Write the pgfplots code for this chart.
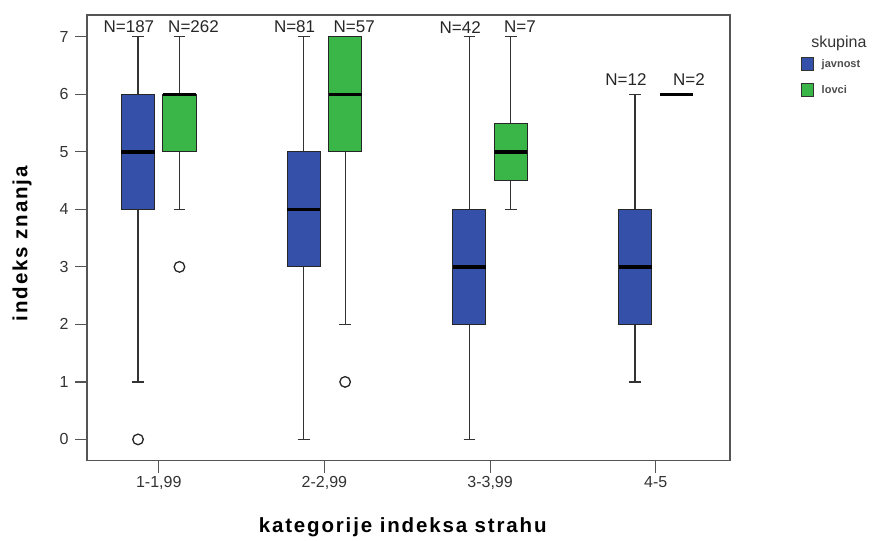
\documentclass[border=0pt]{standalone}
\usepackage{pgfplots}
\pgfplotsset{compat=1.18}
\usepgfplotslibrary{statistics}
\usepackage{fontspec}
\setmainfont{Liberation Sans}
\newfontfamily\spaced[LetterSpace=9]{Liberation Sans}
\definecolor{jav}{RGB}{52,80,168}
\definecolor{lov}{RGB}{58,182,72}
\definecolor{axgray}{RGB}{85,85,85}
\begin{document}
\begin{tikzpicture}
\path[use as bounding box] (0,0) rectangle (887pt,541pt);
\begin{axis}[
  at={(87pt,80.3pt)}, anchor=south west,
  scale only axis, width=643pt, height=445.7pt,
  xmin=-0.433, xmax=3.448, ymin=-0.37, ymax=7.38,
  clip=false,
  xtick={0,1,2,3},
  xticklabels={{1-1,99},{2-2,99},{3-3,99},{4-5}},
  ytick={0,1,2,3,4,5,6,7},
  tick align=outside, xtick pos=bottom, ytick pos=left,
  major tick length=12pt,
  axis line style={axgray, line width=1.3pt},
  every tick/.style={axgray, line width=1.2pt},
  tick label style={font=\fontsize{16}{18}\selectfont, color=black!80},
  yticklabel style={xshift=-3pt},
  /pgf/number format/assume math mode=true,
  xlabel={kategorije indeksa strahu},
  xlabel style={font=\spaced\bfseries\fontsize{20.5}{22}\selectfont, at={(axis description cs:0.491,-0.149)}, anchor=center},
  ylabel={indeks znanja},
  ylabel style={font=\spaced\bfseries\fontsize{20.5}{22}\selectfont, at={(axis description cs:-0.101,0.487)}, anchor=center},
  boxplot/draw direction=y,
  boxplot/box extend=0.2,
  boxplot/whisker extend=0.07,
  boxplot/every median/.style={line width=3.5pt, draw=black},
  boxplot/every whisker/.style={draw=black!80, line width=1.2pt},
  boxplot/every box/.style={draw=black!85, line width=1pt},
  legend style={at={(1.110,0.906)}, anchor=north west, draw=none, fill=none,
    font=\bfseries\fontsize{11}{13}\selectfont, row sep=12pt, inner sep=0pt,
    nodes={text=black!70}},
  legend cell align=left,
]
\addlegendimage{legend image code/.code={\draw[fill=jav, draw=black!80, line width=0.8pt] (0pt,-6.5pt) rectangle (12pt,6.5pt);}}
\addlegendentry{\hspace{6pt}javnost}
\addlegendimage{legend image code/.code={\draw[fill=lov, draw=black!80, line width=0.8pt] (0pt,-6.5pt) rectangle (12pt,6.5pt);}}
\addlegendentry{\hspace{6pt}lovci}

\pgfplotsset{outl/.style={mark=o, mark size=5.3pt, mark options={fill=white, draw=black!85, line width=1.3pt}}}

% group 1
\addplot[forget plot, fill=jav, outl, boxplot prepared={draw position=-0.125, lower whisker=1, lower quartile=4, median=5, upper quartile=6, upper whisker=7}] table[row sep=\\, y index=0] {d\\ 0\\};
\addplot[forget plot, fill=lov, outl, boxplot prepared={draw position=0.125, lower whisker=4, lower quartile=5, median=6, upper quartile=6, upper whisker=7}] table[row sep=\\, y index=0] {d\\ 3\\};
% group 2
\addplot[forget plot, fill=jav, outl, boxplot prepared={draw position=0.875, lower whisker=0, lower quartile=3, median=4, upper quartile=5, upper whisker=7}] coordinates {};
\addplot[forget plot, fill=lov, outl, boxplot prepared={draw position=1.125, lower whisker=2, lower quartile=5, median=6, upper quartile=7, upper whisker=7}] table[row sep=\\, y index=0] {d\\ 1\\};
% group 3
\addplot[forget plot, fill=jav, outl, boxplot prepared={draw position=1.875, lower whisker=0, lower quartile=2, median=3, upper quartile=4, upper whisker=7}] coordinates {};
\addplot[forget plot, fill=lov, outl, boxplot prepared={draw position=2.125, lower whisker=4, lower quartile=4.5, median=5, upper quartile=5.5, upper whisker=7}] coordinates {};
% group 4
\addplot[forget plot, fill=jav, outl, boxplot prepared={draw position=2.875, lower whisker=1, lower quartile=2, median=3, upper quartile=4, upper whisker=6}] coordinates {};
\addplot[forget plot, fill=lov, outl, boxplot prepared={draw position=3.125, lower whisker=6, lower quartile=6, median=6, upper quartile=6, upper whisker=6}, boxplot/every box/.style={draw=none}, boxplot/every whisker/.style={draw=none}] coordinates {};

\begin{scope}[every node/.style={font=\fontsize{17}{19}\selectfont, color=black!85}]
\node at (axis cs:-0.18,7.17) {N=187};
\node at (axis cs:0.21,7.17) {N=262};
\node at (axis cs:0.82,7.17) {N=81};
\node at (axis cs:1.18,7.17) {N=57};
\node at (axis cs:1.82,7.17) {N=42};
\node at (axis cs:2.18,7.17) {N=7};
\node at (axis cs:2.82,6.25) {N=12};
\node at (axis cs:3.2,6.25) {N=2};
\end{scope}
\node[anchor=base west, font=\fontsize{16}{18}\selectfont, color=black!80] at (rel axis cs:1.121,0.928) {skupina};
\end{axis}
\end{tikzpicture}
\end{document}
